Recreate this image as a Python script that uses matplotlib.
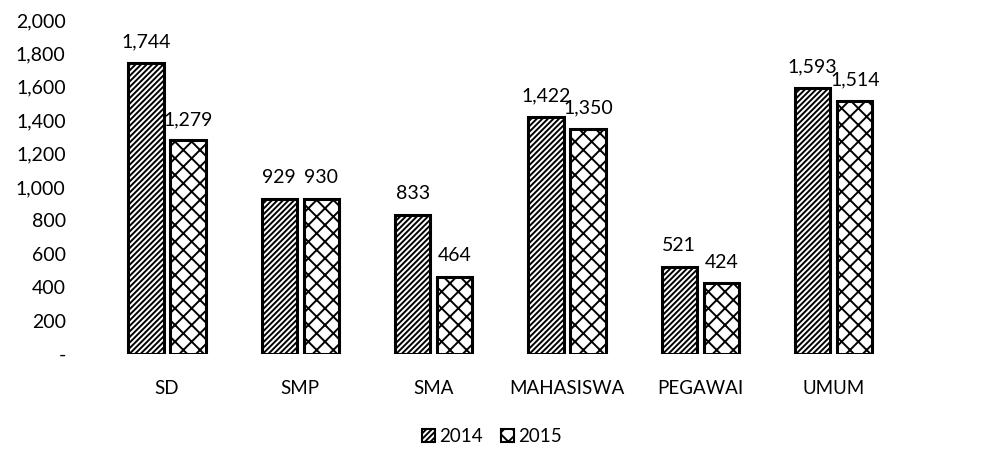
import numpy as np
import matplotlib.pyplot as plt
from matplotlib.patches import Patch

plt.rcParams['font.family'] = ['Lato', 'DejaVu Sans']
plt.rcParams['hatch.linewidth'] = 1.4

categories = ['SD', 'SMP', 'SMA', 'MAHASISWA', 'PEGAWAI', 'UMUM']
vals_2014 = [1744, 929, 833, 1422, 521, 1593]
vals_2015 = [1279, 930, 464, 1350, 424, 1514]
yticks = [0, 200, 400, 600, 800, 1000, 1200, 1400, 1600, 1800, 2000]

fig = plt.figure(figsize=(9.84, 4.55), dpi=100)
ax = fig.add_axes([0.102, 0.222, 0.813, 0.734])

x = np.arange(len(categories))
w = 0.265
off = 0.158
b1 = ax.bar(x - off, vals_2014, w, color='white', edgecolor='black', linewidth=2.2, hatch='//////')
b2 = ax.bar(x + off, vals_2015, w, color='white', edgecolor='black', linewidth=2.2, hatch='xx')

fs = 14
for bars in (b1, b2):
    for r in bars:
        h = r.get_height()
        ax.annotate(f'{h:,.0f}', (r.get_x() + r.get_width() / 2, h), xytext=(0, 9),
                    textcoords='offset points', ha='center', va='bottom', fontsize=fs)

ax.set_xlim(-0.5, 5.5)
ax.set_ylim(0, 2000)
ax.set_yticks(yticks)
ax.set_yticklabels(['-' if v == 0 else f'{v:,}' for v in yticks])
ax.set_xticks(x)
ax.set_xticklabels(categories)
ax.tick_params(axis='y', length=0, pad=25, labelsize=fs)
ax.tick_params(axis='x', length=0, pad=19, labelsize=fs - 0.5)
for s in ax.spines.values():
    s.set_visible(False)

handles = [Patch(facecolor='white', edgecolor='black', linewidth=1.5, hatch='//////', label='2014'),
           Patch(facecolor='white', edgecolor='black', linewidth=1.5, hatch='xx', label='2015')]
fig.legend(handles=handles, loc='center', bbox_to_anchor=(0.5, 0.04), ncol=2, frameon=False,
           handlelength=0.7, handleheight=0.7, handletextpad=0.2, columnspacing=1.0, fontsize=fs - 0.5)

fig.savefig('out.png', dpi=100)
